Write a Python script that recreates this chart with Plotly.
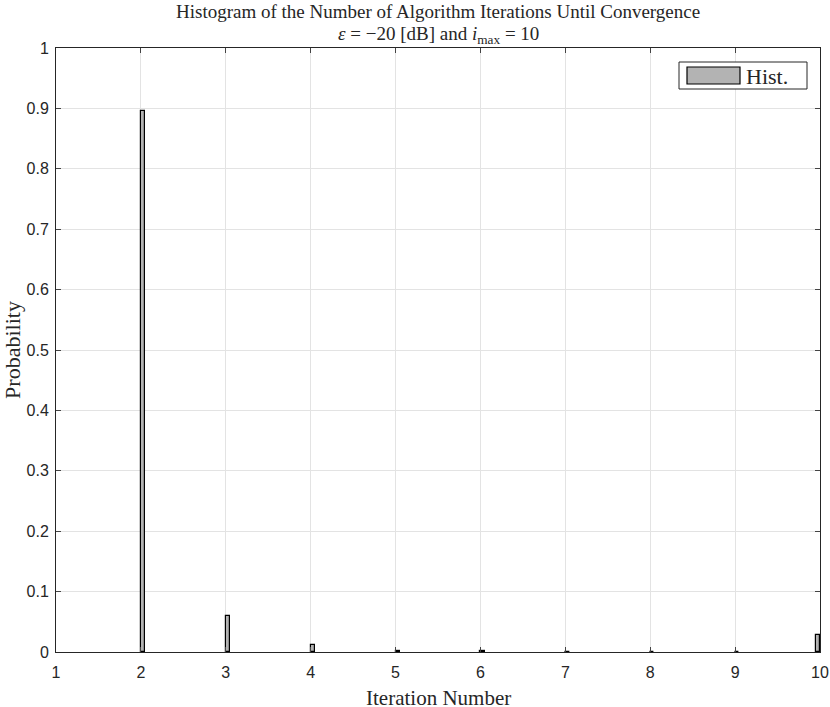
import numpy as np
import plotly.graph_objects as go

iterations = [2, 3, 4, 5, 6, 7, 8, 9, 10]
probability = [0.896, 0.060, 0.012, 0.002, 0.001, 0.0, 0.0, 0.0, 0.028]
x_ticks = [1, 2, 3, 4, 5, 6, 7, 8, 9, 10]
y_ticks = [0, 0.1, 0.2, 0.3, 0.4, 0.5, 0.6, 0.7, 0.8, 0.9, 1]
y_tick_labels = ["0", "0.1", "0.2", "0.3", "0.4", "0.5", "0.6", "0.7", "0.8", "0.9", "1"]

bin_width = 0.05
x_max = 10
left_edges = np.minimum(np.array(iterations, dtype=float), x_max - bin_width)
centers = left_edges + bin_width / 2

serif = "Liberation Serif, Times New Roman, serif"
sans = "Liberation Sans, Arial, Helvetica, sans-serif"

L, R, T, B = 56, 10, 48, 55
W, H = 830, 707
PW, PH = W - L - R, H - T - B

def px(x):
    return (x - L) / PW

def py(y):
    return (H - B - y) / PH

fig = go.Figure()
fig.add_trace(go.Bar(
    x=centers, y=probability, width=bin_width,
    marker=dict(color="#b3b3b3", line=dict(color="black", width=1.2)),
    name="Hist.", showlegend=False, hoverinfo="skip",
))

fig.update_layout(
    width=W, height=H,
    margin=dict(l=L, r=R, t=T, b=B, autoexpand=False),
    paper_bgcolor="white", plot_bgcolor="white",
    xaxis=dict(
        range=[1, 10], tickvals=x_ticks, ticks="inside", ticklen=5, automargin=False,
        ticklabelstandoff=6,
        showgrid=True, gridcolor="#e3e3e3", gridwidth=1,
        showline=True, linecolor="#262626", linewidth=1, mirror="ticks",
        tickfont=dict(family=sans, size=16, color="#262626"),
        zeroline=False,
    ),
    yaxis=dict(
        range=[0, 1], tickvals=y_ticks, ticktext=y_tick_labels, ticks="inside", ticklen=5, automargin=False,
        ticklabelstandoff=3,
        showgrid=True, gridcolor="#e3e3e3", gridwidth=1,
        showline=True, linecolor="#262626", linewidth=1, mirror="ticks",
        tickfont=dict(family=sans, size=16, color="#262626"),
        title=dict(text="Probability", font=dict(family=serif, size=22, color="#262626"), standoff=4),
        zeroline=False,
    ),
    bargap=0,
)

# x-axis title
fig.add_annotation(xref="paper", yref="paper", x=0.5, y=py(698), yanchor="middle",
                   text="Iteration Number", showarrow=False,
                   font=dict(family=serif, size=21, color="#262626"))

# title lines
fig.add_annotation(xref="paper", yref="paper", x=0.5, y=py(12), yanchor="middle",
                   text="Histogram of the Number of Algorithm Iterations Until Convergence",
                   showarrow=False, font=dict(family=serif, size=19, color="#262626"))
fig.add_annotation(xref="paper", yref="paper", x=0.5, y=py(35), yanchor="middle",
                   text="<i>ε</i> = −20 [dB] and <i>i</i><sub>max</sub> = 10",
                   showarrow=False, font=dict(family=serif, size=19, color="#262626"))

# legend drawn manually (MATLAB-style patch)
fig.add_shape(type="rect", xref="paper", yref="paper",
              x0=px(679), x1=px(807), y0=py(89), y1=py(62),
              line=dict(color="#262626", width=1), fillcolor="white", layer="above")
fig.add_shape(type="rect", xref="paper", yref="paper",
              x0=px(687), x1=px(740), y0=py(84), y1=py(67),
              line=dict(color="black", width=1.2), fillcolor="#b3b3b3", layer="above")
fig.add_annotation(xref="paper", yref="paper", x=px(744), y=py(77),
                   text="Hist.", showarrow=False, xanchor="left", yanchor="middle",
                   font=dict(family=serif, size=22, color="#262626"))

fig.write_html("out.html", config={"displayModeBar": False},
               post_script="document.body.style.margin='0';")
